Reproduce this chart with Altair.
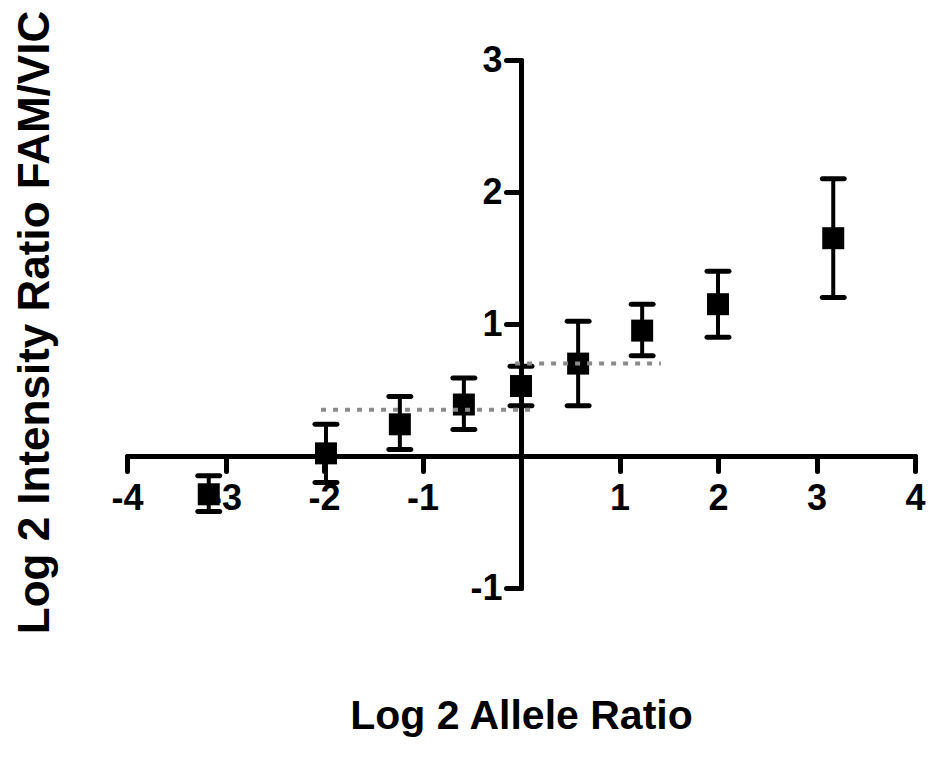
import altair as alt
import pandas as pd

# data
allele_ratio = [-3.17, -1.98, -1.23, -0.58, 0.0, 0.58, 1.23, 2.0, 3.17]
intensity_ratio = [-0.29, 0.02, 0.24, 0.39, 0.53, 0.70, 0.95, 1.15, 1.65]
err_low = [-0.42, -0.20, 0.05, 0.20, 0.38, 0.38, 0.76, 0.90, 1.20]
err_high = [-0.15, 0.24, 0.45, 0.59, 0.68, 1.02, 1.15, 1.40, 2.10]

ref_x_start = [-2.03, -0.06]
ref_x_end = [0.12, 1.42]
ref_y = [0.35, 0.70]

x_ticks = [-4, -3, -2, -1, 0, 1, 2, 3, 4]
y_ticks = [-1, 0, 1, 2, 3]

W, H = 788, 528
FONT = "Liberation Sans"

df = pd.DataFrame({"x": allele_ratio, "y": intensity_ratio, "lo": err_low, "hi": err_high})
ref = pd.DataFrame({"x": ref_x_start, "x2": ref_x_end, "y": ref_y})

xscale = alt.Scale(domain=[-4, 4], nice=False, zero=False)
yscale = alt.Scale(domain=[-1, 3], nice=False, zero=False)

xaxis = alt.Axis(
    values=x_ticks, offset=-H / 4, grid=False,
    domainWidth=5, domainColor="black", domainCap="round",
    tickWidth=5, tickSize=15, tickColor="black", tickCap="round",
    labelFont=FONT, labelFontSize=36, labelFontWeight="bold", labelColor="black",
    labelPadding=10, labelExpr="datum.value == 0 ? '' : toString(datum.value)",
    labelFlush=False, labelOverlap=False,
    title="Log 2 Allele Ratio", titleFont=FONT, titleFontSize=41, titleFontWeight="bold",
    titleColor="black", titleX=W / 2, titleY=272, titleAlign="center", titleBaseline="alphabetic",
)
yaxis = alt.Axis(
    values=y_ticks, offset=-W / 2, grid=False,
    domainWidth=5, domainColor="black", domainCap="round",
    tickWidth=5, tickSize=15, tickColor="black", tickCap="round",
    labelFont=FONT, labelFontSize=36, labelFontWeight="bold", labelColor="black",
    labelPadding=4, labelExpr="datum.value == 0 ? '' : toString(datum.value)",
    labelFlush=False, labelOverlap=False, labelBaseline="middle",
    title="Log 2 Intensity Ratio FAM/VIC", titleFont=FONT, titleFontSize=44, titleFontWeight="bold",
    titleColor="black", titleX=-473, titleY=262, titleAlign="center", titleBaseline="alphabetic",
    titleAngle=270,
)

base = alt.Chart(df)

stems = base.mark_rule(color="black", strokeWidth=4).encode(
    x=alt.X("x:Q", scale=xscale, axis=xaxis),
    y=alt.Y("lo:Q", scale=yscale, axis=yaxis),
    y2="hi:Q",
)
caps_lo = base.mark_tick(color="black", orient="horizontal", thickness=5, size=27,
                         cornerRadius=2.5, opacity=1).encode(
    x=alt.X("x:Q", scale=xscale), y=alt.Y("lo:Q", scale=yscale))
caps_hi = base.mark_tick(color="black", orient="horizontal", thickness=5, size=27,
                         cornerRadius=2.5, opacity=1).encode(
    x=alt.X("x:Q", scale=xscale), y=alt.Y("hi:Q", scale=yscale))
points = base.mark_square(color="black", size=484, opacity=1).encode(
    x=alt.X("x:Q", scale=xscale), y=alt.Y("y:Q", scale=yscale))
refs = alt.Chart(ref).mark_rule(color="#8a8a8a", strokeWidth=4, strokeDash=[5, 7]).encode(
    x=alt.X("x:Q", scale=xscale), x2="x2:Q", y=alt.Y("y:Q", scale=yscale))

chart = alt.layer(stems, caps_lo, caps_hi, points, refs).properties(
    width=W, height=H,
    background="white",
    autosize=alt.AutoSizeParams(type="none"),
    padding={"left": 119, "top": 52, "right": 11, "bottom": 155},
).configure_view(strokeWidth=0, stroke="transparent")

chart.save("out.html", embed_options={"renderer": "svg", "actions": False})
